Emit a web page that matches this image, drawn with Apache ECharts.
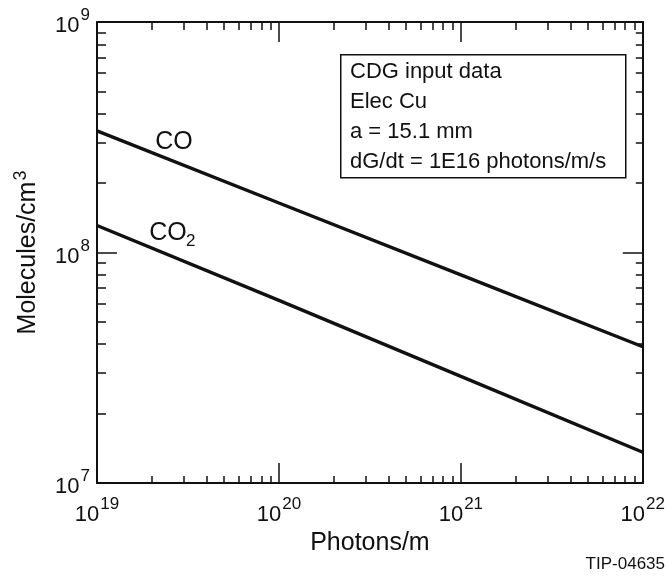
<!DOCTYPE html>
<html>
<head>
<meta charset="utf-8">
<script src="https://cdn.jsdelivr.net/npm/echarts@6/dist/echarts.min.js"></script>
<style>
  html, body { margin: 0; padding: 0; background: #fff; }
  #chart { width: 668px; height: 577px; }
</style>
</head>
<body>
<div id="chart"></div>
<script>
// values (log-log plot)
const photons = [1e19, 1e20, 1e21, 1e22];
const coValues = [3.37e8, 1.64e8, 8.0e7, 3.9e7];
const co2Values = [1.31e8, 6.2e7, 2.9e7, 1.36e7];

// decade exponents for the axes
const xDecades = [19, 20, 21, 22];
const yDecades = [7, 8, 9];

const infoLines = ['CDG input data', 'Elec Cu', 'a = 15.1 mm', 'dG/dt = 1E16 photons/m/s'];
const xName = 'Photons/m';
const yName = 'Molecules/cm';
const figId = 'TIP-04635';

const FONT = '"Liberation Sans", Arial, Helvetica, sans-serif';
const BLACK = '#111';

// minor ticks at log10(k * 10^n), k = 2..9
const minorTicks = (decades) => {
  const out = [];
  for (let i = 0; i < decades.length - 1; i++) {
    for (let k = 2; k <= 9; k++) out.push(decades[i] + Math.log10(k));
  }
  return out;
};

const powLabel = (v) => '{b|10}{s|' + Math.round(v) + '}';
const powRich = {
  b: { fontSize: 22, fontFamily: FONT, color: BLACK, verticalAlign: 'bottom' },
  s: { fontSize: 17, fontFamily: FONT, color: BLACK, verticalAlign: 'bottom', padding: [0, 0, 13, 1] }
};

const toLog = (xs, ys) => xs.map((x, i) => [Math.log10(x), Math.log10(ys[i])]);

// one axis per tick set (major / minor, on each side of the frame)
const makeAxis = (dim, position, ticks, len, opts) => {
  const ext = dim === 'x' ? xDecades : yDecades;
  return Object.assign({
    type: 'value',
    position,
    min: ext[0],
    max: ext[ext.length - 1],
    interval: 1,
    splitLine: { show: false },
    axisLine: { show: false },
    axisTick: {
      show: true, inside: true, length: len, customValues: ticks,
      lineStyle: { color: BLACK, width: 1.5 }
    },
    axisLabel: { show: false }
  }, opts || {});
};

const frameLine = { show: true, onZero: false, lineStyle: { color: BLACK, width: 2 } };

const chart = echarts.init(document.getElementById('chart'));

chart.setOption({
  animation: false,
  backgroundColor: '#fff',
  grid: { left: 97, right: 25, top: 22, bottom: 94 },
  xAxis: [
    makeAxis('x', 'bottom', xDecades, 20, {
      axisLine: frameLine,
      axisLabel: {
        show: true, customValues: xDecades, margin: 13,
        formatter: powLabel, rich: powRich
      },
      name: xName,
      nameLocation: 'middle',
      nameGap: 48,
      nameTextStyle: { fontSize: 25, fontFamily: FONT, color: BLACK }
    }),
    makeAxis('x', 'bottom', minorTicks(xDecades), 7),
    makeAxis('x', 'top', xDecades, 20, { axisLine: frameLine }),
    makeAxis('x', 'top', minorTicks(xDecades), 8)
  ],
  yAxis: [
    makeAxis('y', 'left', yDecades, 20, {
      axisLine: frameLine,
      axisLabel: {
        show: true, customValues: yDecades, margin: 7,
        formatter: powLabel, rich: powRich
      },
      name: '{a|' + yName + '}{s|3}',
      nameLocation: 'middle',
      nameGap: 56,
      nameTextStyle: {
        rich: {
          a: { fontSize: 25, fontFamily: FONT, color: BLACK, verticalAlign: 'bottom' },
          s: { fontSize: 18, fontFamily: FONT, color: BLACK, verticalAlign: 'bottom', padding: [0, 0, 11, 1] }
        }
      }
    }),
    makeAxis('y', 'left', minorTicks(yDecades), 9),
    makeAxis('y', 'right', yDecades, 20, { axisLine: frameLine }),
    makeAxis('y', 'right', minorTicks(yDecades), 7)
  ],
  series: [
    {
      name: 'CO', type: 'line', data: toLog(photons, coValues),
      xAxisIndex: 0, yAxisIndex: 0, showSymbol: false, silent: true,
      lineStyle: { color: BLACK, width: 3.4 }
    },
    {
      name: 'CO2', type: 'line', data: toLog(photons, co2Values),
      xAxisIndex: 0, yAxisIndex: 0, showSymbol: false, silent: true,
      lineStyle: { color: BLACK, width: 3.4 }
    }
  ],
  graphic: [
    {
      type: 'rect', left: 340, top: 54, z: 10,
      shape: { width: 285, height: 123 },
      style: { fill: '#fff', stroke: BLACK, lineWidth: 1.5 }
    },
    {
      type: 'text', left: 350, top: 57, z: 11,
      style: {
        text: infoLines.join('\n'), fontSize: 22, fontFamily: FONT,
        fill: BLACK, lineHeight: 30
      }
    },
    {
      type: 'text', x: 174, y: 142, z: 11,
      style: { text: 'CO', fontSize: 25, fontFamily: FONT, fill: BLACK, align: 'center', verticalAlign: 'middle' }
    },
    {
      type: 'text', x: 168, y: 233, z: 11,
      style: { text: 'CO', fontSize: 25, fontFamily: FONT, fill: BLACK, align: 'center', verticalAlign: 'middle' }
    },
    {
      type: 'text', x: 186, y: 241, z: 11,
      style: { text: '2', fontSize: 17, fontFamily: FONT, fill: BLACK, align: 'left', verticalAlign: 'middle' }
    },
    {
      type: 'text', x: 665, y: 564, z: 11,
      style: { text: figId, fontSize: 17, fontFamily: FONT, fill: BLACK, align: 'right', verticalAlign: 'middle' }
    }
  ]
});
</script>
</body>
</html>
